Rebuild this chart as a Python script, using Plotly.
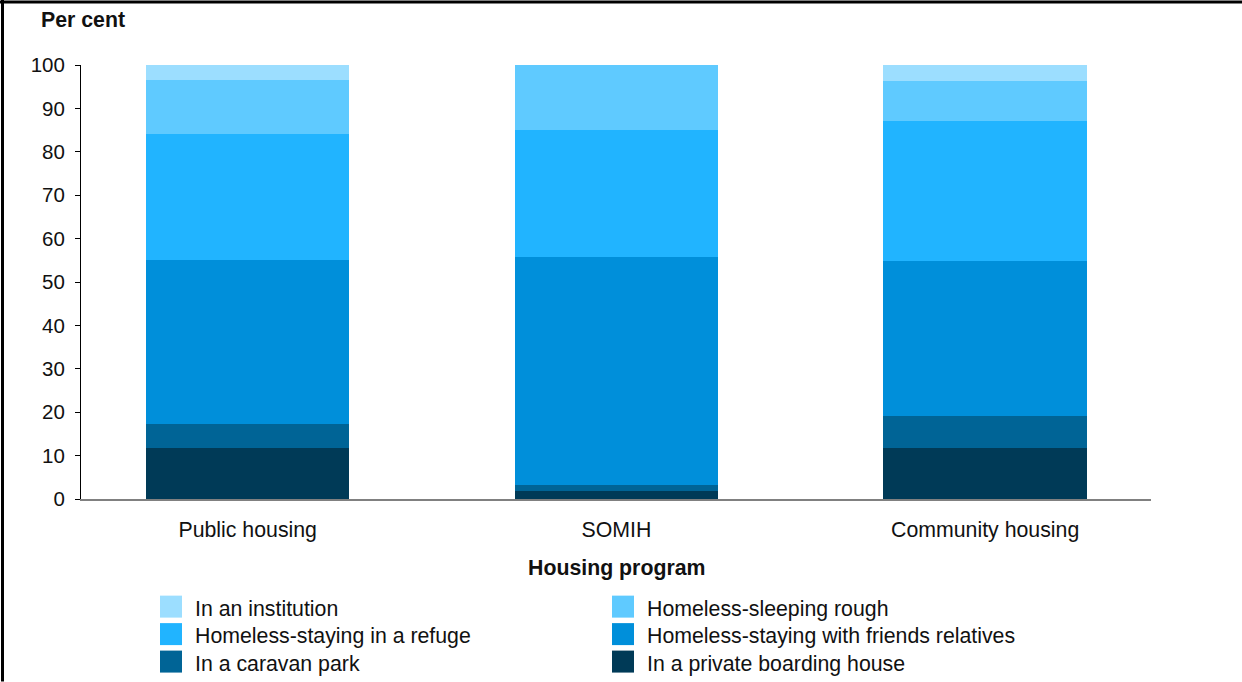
import plotly.graph_objects as go

# Housing program categories
programs = ["Public housing", "SOMIH", "Community housing"]

# Share of new allocations by prior housing circumstance (per cent), stacked bottom to top
private_boarding = [11.8, 1.8, 11.8]
caravan_park = [5.4, 1.5, 7.4]
friends_relatives = [37.9, 52.4, 35.7]
refuge = [29.1, 29.3, 32.3]
sleeping_rough = [12.3, 15.0, 9.2]
institution = [3.5, 0.0, 3.6]

series_names = [
    "In a private boarding house",
    "In a caravan park",
    "Homeless-staying with friends relatives",
    "Homeless-staying in a refuge",
    "Homeless-sleeping rough",
    "In an institution",
]
series_values = [private_boarding, caravan_park, friends_relatives, refuge, sleeping_rough, institution]
series_colors = ["#003A57", "#006496", "#008FDA", "#21B4FF", "#5FCAFF", "#9CDEFF"]

y_ticks = [0, 10, 20, 30, 40, 50, 60, 70, 80, 90, 100]

FONT = "Liberation Sans, Arial, sans-serif"
TXT = 21.3

fig = go.Figure()
for name, vals, col in zip(series_names, series_values, series_colors):
    fig.add_trace(go.Bar(
        x=programs, y=vals, name=name,
        marker=dict(color=col, line=dict(width=0)),
        width=0.552, showlegend=False,
        hovertemplate="%{x}<br>" + name + ": %{y}%<extra></extra>",
    ))

# Plot area in pixels (used to place the legend and frame in paper units)
W, H = 1242, 682
L, R, T, B = 81, 91, 65, 182.7
pw, ph = W - L - R, H - T - B


def px_x(x):
    return (x - L) / pw


def px_y(y):
    return (H - B - y) / ph


shapes = []
annotations = []

# Legend: two columns, three rows, top entry first
legend_order = [5, 4, 3, 2, 1, 0]
col_swatch_x = [160, 612]
col_text_x = [193, 645]
row_center_y = [607, 634.5, 662]
for i, idx in enumerate(legend_order):
    row, col = divmod(i, 2)
    cy = row_center_y[row]
    sx = col_swatch_x[col]
    shapes.append(dict(
        type="rect", xref="paper", yref="paper",
        x0=px_x(sx), x1=px_x(sx + 22), y0=px_y(cy + 11), y1=px_y(cy - 11),
        fillcolor=series_colors[idx], line=dict(width=0), layer="above",
    ))
    annotations.append(dict(
        text=series_names[idx], xref="paper", yref="paper",
        x=px_x(col_text_x[col]), y=px_y(cy + 2), xanchor="left", yanchor="middle",
        showarrow=False, font=dict(family=FONT, size=TXT, color="#111111"),
    ))

# Frame lines along top and left edges
shapes.append(dict(type="line", xref="paper", yref="paper",
                   x0=px_x(0), x1=px_x(W), y0=px_y(2), y1=px_y(2),
                   line=dict(color="black", width=3)))
shapes.append(dict(type="line", xref="paper", yref="paper",
                   x0=px_x(2.5), x1=px_x(2.5), y0=px_y(0), y1=px_y(H),
                   line=dict(color="black", width=3)))

# Axis captions
annotations.append(dict(
    text="<b>Per cent</b>", xref="paper", yref="paper",
    x=px_x(82.5), y=px_y(20), xanchor="center", yanchor="middle",
    showarrow=False, font=dict(family=FONT, size=TXT, color="#111111"),
))
annotations.append(dict(
    text="<b>Housing program</b>", xref="paper", yref="paper",
    x=px_x(616.5), y=px_y(568), xanchor="center", yanchor="middle",
    showarrow=False, font=dict(family=FONT, size=TXT, color="#111111"),
))

fig.update_layout(
    width=W, height=H,
    margin=dict(l=L, r=R, t=T, b=B, pad=0),
    barmode="stack",
    bargap=0,
    plot_bgcolor="white",
    paper_bgcolor="white",
    font=dict(family=FONT, size=20, color="#111111"),
    shapes=shapes,
    annotations=annotations,
    xaxis=dict(
        range=[-0.4521, 2.4497],
        showline=True, linecolor="#808080", linewidth=1.5,
        ticks="", showgrid=False, zeroline=False,
        tickfont=dict(family=FONT, size=TXT, color="#111111"),
        ticklabelstandoff=11,
        fixedrange=True,
    ),
    yaxis=dict(
        range=[0, 100],
        tickvals=y_ticks,
        showline=True, linecolor="black", linewidth=1,
        ticks="outside", ticklen=5, tickcolor="black", tickwidth=1,
        showgrid=False, zeroline=False,
        tickfont=dict(family=FONT, size=20.5, color="#111111"),
        ticklabelstandoff=6,
        fixedrange=True,
    ),
)

fig.write_html("out.html")
